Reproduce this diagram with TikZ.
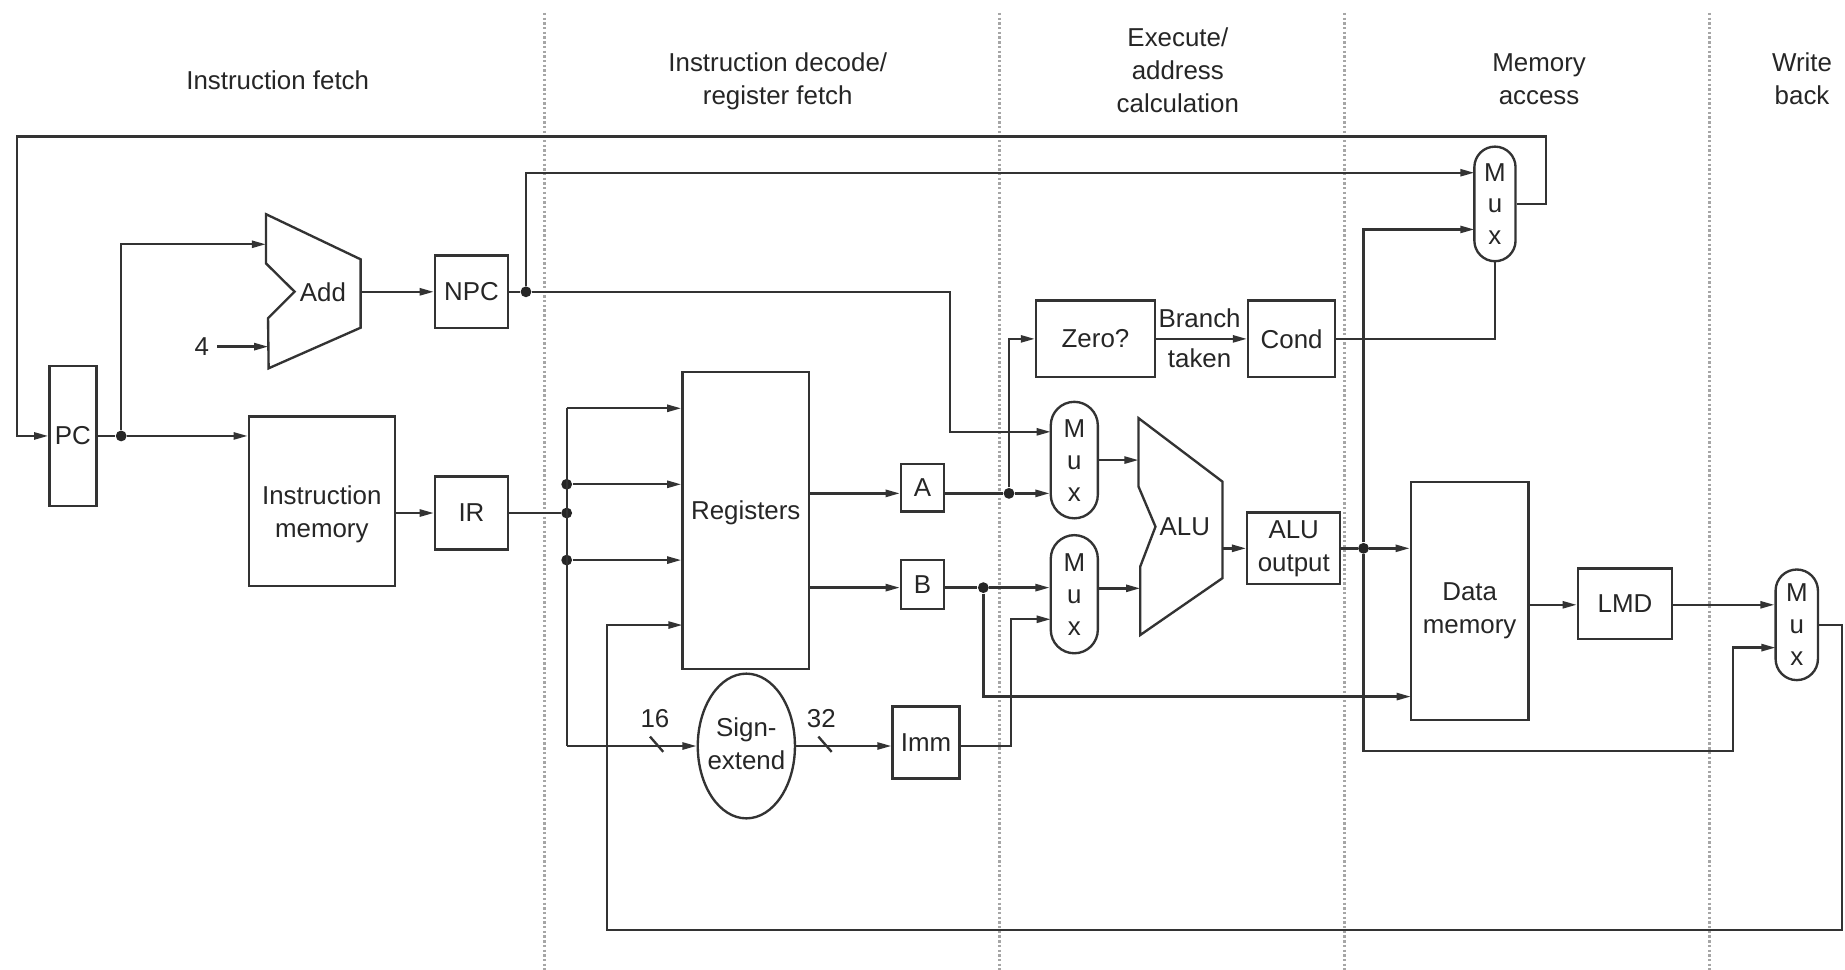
\documentclass[tikz,border=0pt]{standalone}
\usepackage{fontspec}
\setmainfont{Liberation Sans}
\usetikzlibrary{arrows.meta,shapes.geometric}
\newcommand\muxlabels[1]{%
  \node[letter] (#1M) at ([yshift=13.5pt]#1.center) {M};
  \node[letter] (#1u) at ([yshift=-1pt]#1.center) {u};
  \node[letter] (#1x) at ([yshift=-14.5pt]#1.center) {x};}
\begin{document}
\begin{tikzpicture}[x=0.5pt,y=-0.5pt,
  font=\fontsize{11}{14}\selectfont, text=black!85,
  wire/.style={line width=1pt, draw=black!80},
  arr/.style={wire, -{Triangle[length=6pt,width=3pt]}},
  box/.style={draw=black!80, line width=1pt, inner sep=0pt, align=center},
  muxbox/.style={draw=black!80, line width=1pt, inner sep=0pt},
  letter/.style={inner sep=0pt},
  dot/.style={circle, fill=black!85, inner sep=0pt, minimum size=4.6pt},
  stage/.style={draw=black!35, line width=1.2pt, dash pattern=on 1pt off 1pt},
  lbl/.style={align=center}]
\fill[white] (0,0) rectangle (1568,824);
\useasboundingbox (0,0) rectangle (1568,824);
% stage separators
\draw[stage] (462.9,11) -- (462.9,824);
\draw[stage] (849.3,11) -- (849.3,824);
\draw[stage] (1142.4,11) -- (1142.4,824);
\draw[stage] (1453,11) -- (1453,824);
% stage titles
\node[lbl] (tIF) at (236,68) {Instruction fetch};
\node[lbl] (tID) at (661,69) {Instruction decode/\\register fetch};
\node[lbl] (tEX) at (1001,60) {Execute/\\address\\calculation};
\node[lbl] (tMEM) at (1308,67) {Memory\\access};
\node[lbl] (tWB) at (1531.5,67) {Write\\back};
% boxes
\node[box, minimum width=20pt, minimum height=59.5pt] (PC) at (62,370.5) {PC};
\node[box, minimum width=62pt, minimum height=72pt] (imem) at (273.5,426) {};
\node[lbl] (imemt) at (273.5,437) {Instruction\\memory};
\node[box, minimum width=31pt, minimum height=31pt] (NPC) at (400.7,248) {NPC};
\node[box, minimum width=31pt, minimum height=31pt] (IR) at (400.7,436) {IR};
\node[box, minimum width=53.8pt, minimum height=126.3pt] (Reg) at (633.8,442.2) {};
\node (Regt) at (633.8,436) {Registers};
\node[box, minimum width=18.3pt, minimum height=20.3pt] (A) at (784,414.5) {A};
\node[box, minimum width=18.3pt, minimum height=20.8pt] (B) at (784,496.8) {B};
\node[box, ellipse, minimum width=41.3pt, minimum height=61.5pt] (sext) at (634.3,634) {};
\node[lbl] (sextt) at (634.3,632) {Sign-\\extend};
\node[box, minimum width=28.4pt, minimum height=30.5pt] (Imm) at (787,631) {Imm};
\node[box, minimum width=50.5pt, minimum height=32.5pt] (Zero) at (931,288) {Zero?};
\node[box, minimum width=37pt, minimum height=32.5pt] (Cond) at (1097.7,288) {Cond};
\node[box, minimum width=39.5pt, minimum height=30.5pt] (ALUo) at (1099.5,466) {ALU\\output};
\node[box, minimum width=50pt, minimum height=101pt] (Dmem) at (1249,510.8) {};
\node[lbl] (Dmemt) at (1249,519) {Data\\memory};
\node[box, minimum width=40pt, minimum height=30pt] (LMD) at (1381,513) {LMD};
% muxes
\node[muxbox, rounded corners=8.75pt, minimum width=17.5pt, minimum height=48.7pt] (muxPC) at (1270.5,173.3) {};
\node[muxbox, rounded corners=10pt, minimum width=20pt, minimum height=49.5pt] (muxA) at (913,391) {};
\node[muxbox, rounded corners=10pt, minimum width=20pt, minimum height=50.2pt] (muxB) at (913,505) {};
\node[muxbox, rounded corners=9pt, minimum width=18pt, minimum height=47pt] (muxWB) at (1527,531) {};
\muxlabels{muxPC}
\muxlabels{muxA}
\muxlabels{muxB}
\muxlabels{muxWB}
% adder and ALU shapes
\draw[wire] (226,182) -- (306.5,220.4) -- (306.5,278.5) -- (228.3,313) -- (227.8,270.5) -- (250.4,247.9) -- (226,223.8) -- cycle;
\node (addt) at (274.5,248) {Add};
\coordinate (addin1) at (226,207.6);
\coordinate (addin2) at (228,294.6);
\coordinate (addout) at (306.5,248);
\draw[wire] (967.6,355.4) -- (1039,409.4) -- (1039,491.3) -- (969,539.7) -- (969,481.6) -- (982,447.6) -- (967.6,413.6) -- cycle;
\node (alut) at (1007,447.6) {ALU};
\coordinate (aluin1) at (967.6,391);
\coordinate (aluin2) at (969,500);
\coordinate (aluout) at (1039,466);
% dots
\node[dot] (pcdot) at (103,370.5) {};
\node[dot] (npcdot) at (447,248) {};
\node[dot] (irdot) at (481.6,436) {};
\node[dot] (bd1) at (481.6,411.6) {};
\node[dot] (bd3) at (481.6,476) {};
\node[dot] (dotA) at (857.5,419.3) {};
\node[dot] (dotB) at (835.7,499.4) {};
\node[dot] (dotALU) at (1158.8,466) {};
\coordinate (bustop) at (481.6,347);
\coordinate (busbot) at (481.6,634);
\coordinate (regin4) at (580,531.2);
\coordinate (rA) at (687.6,419.3);
\coordinate (rB) at (687.6,499.4);
\coordinate (muxPCin1) at (1253,146.8);
\coordinate (muxPCin2) at (1253,195);
\coordinate (muxAin1) at (893,367);
\coordinate (muxBin2) at (893,526.3);
\coordinate (muxWBin2) at (1509,550.4);
\coordinate (dmin2) at (1199,592);
\coordinate (dmout) at (1299,514);
% instruction fetch
\draw[arr] (muxPC.east) -- (1314,173.3) |- (14.5,116) |- (PC.west);
\draw[wire] (PC.east) -- (pcdot);
\draw[arr] (pcdot) -- (pcdot -| imem.west);
\draw[arr] (pcdot) |- (addin1);
\node (four) at (171.6,294.6) {4};
\draw[arr] (four) -- (addin2);
\draw[arr] (addout) -- (NPC.west);
\draw[wire] (NPC.east) -- (npcdot);
\draw[arr] (npcdot) |- (muxPCin1);
\draw[arr] (npcdot) -| (807.4,367) -- (muxAin1);
\draw[arr] (imem.east |- IR.west) -- (IR.west);
% decode
\draw[wire] (IR.east) -- (irdot);
\draw[wire] (bustop) -- (busbot);
\draw[arr] (bustop) -- (bustop -| Reg.west);
\draw[arr] (bd1) -- (bd1 -| Reg.west);
\draw[arr] (bd3) -- (bd3 -| Reg.west);
\draw[arr] (busbot) -- (sext.west);
\draw[wire] (552.4,626) -- (563.7,639);
\node (w16) at (556.6,611) {16};
\draw[arr] (sext.east) -- (sext.east -| Imm.west);
\draw[wire] (695.5,626) -- (706.8,639);
\node (w32) at (698,611) {32};
\draw[arr] (rA) -- (rA -| A.west);
\draw[arr] (rB) -- (rB -| B.west);
\draw[arr] (muxWB.east) -- (1565.6,531) |- (516,790.5) |- (regin4);
% execute
\draw[wire] (A.east |- dotA) -- (dotA);
\draw[arr] (dotA) -- (dotA -| muxA.west);
\draw[arr] (dotA) |- (Zero.west);
\draw[wire] (B.east |- dotB) -- (dotB);
\draw[arr] (dotB) -- (dotB -| muxB.west);
\draw[arr] (dotB) |- (dmin2);
\draw[arr] (Imm.east |- sext.east) -- (859,634) |- (muxBin2);
\draw[arr] (muxA.east |- aluin1) -- (aluin1);
\draw[arr] (muxB.east |- aluin2) -- (aluin2);
\draw[arr] (aluout) -- (ALUo.west);
\draw[arr] (Zero.east) -- (Cond.west);
\node (brt) at (1019.5,270.6) {Branch};
\node (tkt) at (1019.5,304.5) {taken};
\draw[wire] (Cond.east) -| (muxPC.south);
% memory
\draw[wire] (ALUo.east) -- (dotALU);
\draw[arr] (dotALU) -- (dotALU -| Dmem.west);
\draw[arr] (dotALU) |- (muxPCin2);
\draw[arr] (dotALU) |- (1473,638) |- (muxWBin2);
\draw[arr] (dmout) -- (dmout -| LMD.west);
\draw[arr] (LMD.east |- dmout) -- (dmout -| muxWB.west);
\end{tikzpicture}
\end{document}
